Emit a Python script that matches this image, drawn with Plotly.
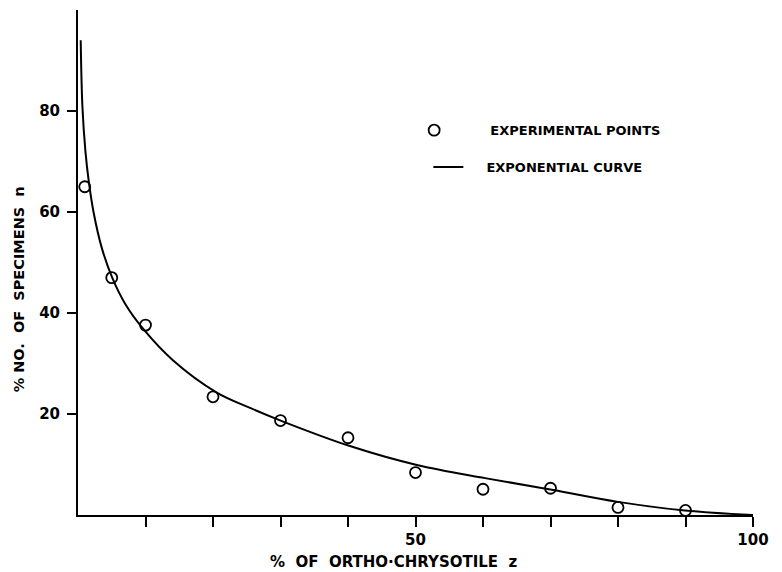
import plotly.graph_objects as go

# Experimental points
exp_z = [1, 5, 10, 20, 30, 40, 50, 60, 70, 80, 90]
exp_n = [65, 47, 37.6, 23.4, 18.7, 15.3, 8.4, 5.1, 5.3, 1.5, 0.9]

# Exponential curve
curve_z = [0.4, 0.65, 1.1, 1.6, 2.3, 3.5, 5.1, 7, 9.7, 14.1, 20.5, 25.5, 30.2,
           40.4, 50.2, 60.3, 70.2, 80, 89.9, 100]
curve_n = [94, 81, 72, 66, 60, 53, 46.9, 41.8, 36.8, 30.6, 24.3, 21.2, 18.6,
           13.6, 9.9, 7.3, 5.0, 2.6, 0.9, 0]

x_tickvals = [10, 20, 30, 40, 50, 60, 70, 80, 90, 100]
x_ticktext = ["", "", "", "", "50", "", "", "", "", "100"]
y_tickvals = [20, 40, 60, 80]
y_ticktext = ["20", "40", "60", "80"]

FONT = "DejaVu Sans"
NB = "\u00a0"

fig = go.Figure()
fig.add_trace(go.Scatter(
    x=exp_z, y=exp_n, mode="markers", name=NB * 8 + "EXPERIMENTAL POINTS",
    legend="legend",
    marker=dict(symbol="circle-open", size=11, color="black", line=dict(width=1.8)),
    cliponaxis=False,
))
fig.add_trace(go.Scatter(
    x=curve_z, y=curve_n, mode="lines", name=NB * 4 + "EXPONENTIAL CURVE",
    legend="legend2",
    line=dict(color="black", width=2, shape="spline", smoothing=1.0),
))

legend_font = dict(family=FONT, size=13, color="black", weight="bold")

fig.update_layout(
    width=774, height=564,
    margin=dict(l=70, r=29, t=2, b=57),
    paper_bgcolor="white", plot_bgcolor="white",
    font=dict(family=FONT, color="black"),
    showlegend=True,
    legend=dict(x=0.498, y=0.762, xanchor="left", yanchor="middle",
                font=legend_font, bgcolor="rgba(0,0,0,0)", itemwidth=30),
    legend2=dict(x=0.519, y=0.689, xanchor="left", yanchor="middle",
                 font=legend_font, bgcolor="rgba(0,0,0,0)", itemwidth=30),
    xaxis=dict(
        range=[0, 100], showgrid=False, zeroline=False,
        showline=True, linecolor="black", linewidth=2,
        ticks="outside", ticklen=10, tickwidth=2, tickcolor="black",
        tickvals=x_tickvals, ticktext=x_ticktext,
        tickfont=dict(family=FONT, size=15, color="black", weight="bold"),
    ),
    yaxis=dict(
        range=[0, 100], showgrid=False, zeroline=False,
        showline=True, linecolor="black", linewidth=2,
        ticks="outside", ticklen=9, tickwidth=2, tickcolor="black",
        tickvals=y_tickvals, ticktext=y_ticktext, ticklabelstandoff=4,
        tickfont=dict(family=FONT, size=15, color="black", weight="bold"),
    ),
    annotations=[
        dict(text="%" + NB * 2 + "OF" + NB * 2 + "ORTHO·CHRYSOTILE" + NB * 2 + "z",
             xref="paper", yref="paper",
             x=0.468, y=-0.093, xanchor="center", yanchor="middle", showarrow=False,
             font=dict(family=FONT, size=15, color="black", weight="bold")),
        dict(text="%" + NB + "NO." + NB * 2 + "OF" + NB * 2 + "SPECIMENS" + NB * 2 + "n",
             xref="paper", yref="paper",
             x=-0.088, y=0.446, xanchor="center", yanchor="middle", showarrow=False,
             textangle=-90,
             font=dict(family=FONT, size=14.5, color="black", weight="bold")),
    ],
)

fig.write_html("out.html")
